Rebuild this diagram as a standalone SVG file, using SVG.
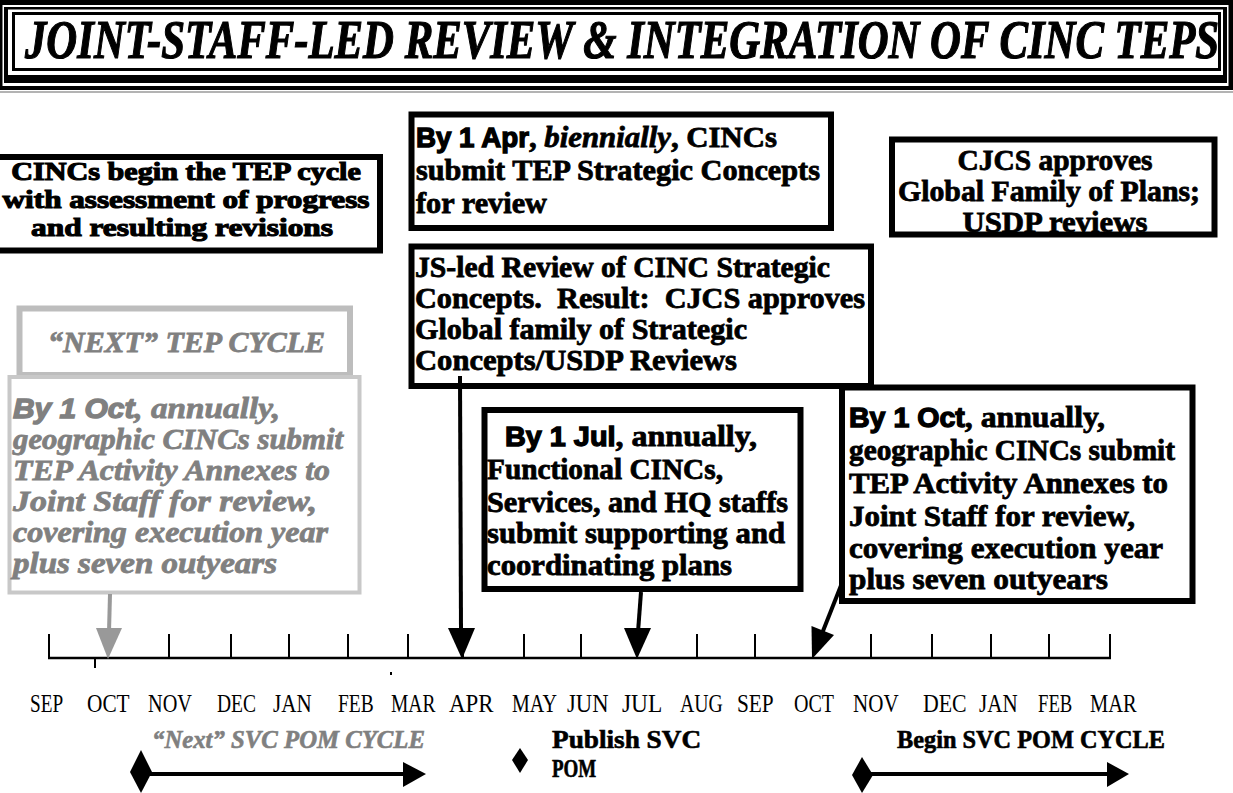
<svg xmlns="http://www.w3.org/2000/svg" width="1233" height="793" viewBox="0 0 1233 793">
  <style>
    .box { fill: #fff; stroke: #000; stroke-width: 6; }
    .gbox { fill: #fff; }
    .t { font-family: "Liberation Serif", "Times New Roman", serif; font-weight: bold; font-size: 30px; fill: #000; stroke: #000; stroke-width: 0.8; }
    .g { fill: #808080; stroke: #808080; font-style: italic; }
    .sans { font-family: "Liberation Sans", Arial, sans-serif; font-weight: bold; stroke-width: 1.3; }
    .it { font-style: italic; }
    .mon { font-family: "Liberation Serif", "Times New Roman", serif; font-size: 26px; fill: #000; }
    .lbl { font-family: "Liberation Serif", "Times New Roman", serif; font-weight: bold; font-size: 25px; fill: #000; stroke: #000; stroke-width: 0.6; }
    .tick { stroke: #000; stroke-width: 2; }
    .stem { stroke: #000; stroke-width: 4; fill: none; }
  </style>

  <!-- title banner: nested frame lines -->
  <g id="title">
    <rect x="0" y="0" width="1233" height="90" fill="#000"/>
    <rect x="2.5" y="5" width="1226" height="81" fill="#fff"/>
    <rect x="4" y="7" width="1223" height="76" fill="#000"/>
    <rect x="8" y="9.5" width="1215" height="65.5" fill="#fff"/>
    <rect x="13.5" y="13.5" width="1206" height="56" fill="none" stroke="#000" stroke-width="3"/>
    <line x1="0" y1="92" x2="1233" y2="92" stroke="#9a9a9a" stroke-width="1.5"/>
    <text transform="translate(25 58) scale(0.792 1)" font-family="'Liberation Serif', 'Times New Roman', serif" font-weight="bold" font-style="italic" font-size="54" stroke="#000" stroke-width="1.2">JOINT-STAFF-LED REVIEW &amp; INTEGRATION OF CINC TEPS</text>
  </g>

  <g id="node-begin">
    <rect class="box" x="-10" y="157" width="390" height="93.5"/>
    <text class="t" text-anchor="middle" style="font-size:25px;stroke-width:1.1" transform="translate(186 180) scale(1.207 1)">CINCs begin the TEP cycle</text>
    <text class="t" text-anchor="middle" style="font-size:25px;stroke-width:1.1" transform="translate(186 208) scale(1.247 1)">with assessment of progress</text>
    <text class="t" text-anchor="middle" style="font-size:25px;stroke-width:1.1" transform="translate(182 236) scale(1.254 1)">and resulting revisions</text>
  </g>

  <g id="node-apr">
    <rect class="box" x="411.5" y="114.5" width="419.5" height="113.5"/>
    <text class="t" x="416" y="147" textLength="361" lengthAdjust="spacingAndGlyphs"><tspan class="sans" font-size="27">By 1 Apr</tspan>, <tspan class="it">biennially</tspan>, CINCs</text>
    <text class="t" x="416" y="180" textLength="404" lengthAdjust="spacingAndGlyphs">submit TEP Strategic Concepts</text>
    <text class="t" x="416" y="213" textLength="131" lengthAdjust="spacingAndGlyphs">for review</text>
  </g>

  <g id="node-cjcs">
    <rect class="box" x="892" y="139.5" width="322.5" height="95"/>
    <text class="t" text-anchor="middle" x="1055" y="170" textLength="195" lengthAdjust="spacingAndGlyphs">CJCS approves</text>
    <text class="t" text-anchor="middle" x="1049" y="201" textLength="302" lengthAdjust="spacingAndGlyphs">Global Family of Plans;</text>
    <text class="t" text-anchor="middle" x="1055" y="232" textLength="185" lengthAdjust="spacingAndGlyphs">USDP reviews</text>
  </g>

  <g id="node-js-review">
    <rect class="box" x="411.5" y="246.5" width="459.5" height="139.5"/>
    <text class="t" x="415" y="277" textLength="415" lengthAdjust="spacingAndGlyphs">JS-led Review of CINC Strategic</text>
    <text class="t" x="415" y="308" textLength="450" lengthAdjust="spacingAndGlyphs" style="white-space:pre">Concepts.  Result:  CJCS approves</text>
    <text class="t" x="415" y="339" textLength="332" lengthAdjust="spacingAndGlyphs">Global family of Strategic</text>
    <text class="t" x="415" y="370" textLength="322" lengthAdjust="spacingAndGlyphs">Concepts/USDP Reviews</text>
  </g>

  <g id="node-next-cycle">
    <rect class="gbox" x="19.5" y="308.5" width="330.5" height="66.5" stroke="#bdbdbd" stroke-width="6"/>
    <text class="t g" x="48" y="352" textLength="277" lengthAdjust="spacingAndGlyphs">“NEXT” TEP CYCLE</text>
  </g>

  <g id="node-next-oct">
    <rect class="gbox" x="9.5" y="377" width="350" height="215.5" stroke="#c8c8c8" stroke-width="4"/>
    <text class="t g" x="13" y="418" textLength="267" lengthAdjust="spacingAndGlyphs"><tspan class="sans" font-size="27">By 1 Oct</tspan>, annually,</text>
    <text class="t g" x="13" y="449" textLength="330" lengthAdjust="spacingAndGlyphs">geographic CINCs submit</text>
    <text class="t g" x="13" y="480" textLength="317" lengthAdjust="spacingAndGlyphs">TEP Activity Annexes to</text>
    <text class="t g" x="13" y="511" textLength="304" lengthAdjust="spacingAndGlyphs">Joint Staff for review,</text>
    <text class="t g" x="13" y="542" textLength="315" lengthAdjust="spacingAndGlyphs">covering execution year</text>
    <text class="t g" x="13" y="573" textLength="264" lengthAdjust="spacingAndGlyphs">plus seven outyears</text>
  </g>

  <g id="node-jul">
    <rect class="box" x="484.5" y="410" width="316" height="179"/>
    <text class="t" x="505" y="446" textLength="252" lengthAdjust="spacingAndGlyphs"><tspan class="sans" font-size="27">By 1 Jul</tspan>, annually,</text>
    <text class="t" x="487" y="479" textLength="236" lengthAdjust="spacingAndGlyphs">Functional CINCs,</text>
    <text class="t" x="487" y="512" textLength="301" lengthAdjust="spacingAndGlyphs">Services, and HQ staffs</text>
    <text class="t" x="487" y="543" textLength="298" lengthAdjust="spacingAndGlyphs">submit supporting and</text>
    <text class="t" x="487" y="575" textLength="245" lengthAdjust="spacingAndGlyphs">coordinating plans</text>
  </g>

  <g id="node-oct">
    <rect class="box" x="842" y="387.5" width="350.5" height="213.5"/>
    <text class="t" x="849" y="427" textLength="256" lengthAdjust="spacingAndGlyphs"><tspan class="sans" font-size="27">By 1 Oct</tspan>, annually,</text>
    <text class="t" x="849" y="460" textLength="326" lengthAdjust="spacingAndGlyphs">geographic CINCs submit</text>
    <text class="t" x="849" y="493" textLength="319" lengthAdjust="spacingAndGlyphs">TEP Activity Annexes to</text>
    <text class="t" x="849" y="526" textLength="286" lengthAdjust="spacingAndGlyphs">Joint Staff for review,</text>
    <text class="t" x="849" y="558" textLength="314" lengthAdjust="spacingAndGlyphs">covering execution year</text>
    <text class="t" x="849" y="589" textLength="259" lengthAdjust="spacingAndGlyphs">plus seven outyears</text>
  </g>

  <!-- month axis -->
  <g id="timeline">
    <line x1="48" y1="658" x2="1111" y2="658" stroke="#000" stroke-width="2.5"/>
    <g class="tick">
      <line x1="49" y1="634" x2="49" y2="658"/>
      <line x1="108" y1="634" x2="108" y2="658"/>
      <line x1="169" y1="634" x2="169" y2="658"/>
      <line x1="231" y1="634" x2="231" y2="658"/>
      <line x1="289" y1="634" x2="289" y2="658"/>
      <line x1="348" y1="634" x2="348" y2="658"/>
      <line x1="408" y1="634" x2="408" y2="658"/>
      <line x1="463" y1="634" x2="463" y2="658"/>
      <line x1="524" y1="634" x2="524" y2="658"/>
      <line x1="581" y1="634" x2="581" y2="658"/>
      <line x1="637" y1="634" x2="637" y2="658"/>
      <line x1="697" y1="634" x2="697" y2="658"/>
      <line x1="755" y1="634" x2="755" y2="658"/>
      <line x1="813" y1="634" x2="813" y2="658"/>
      <line x1="871" y1="634" x2="871" y2="658"/>
      <line x1="932" y1="634" x2="932" y2="658"/>
      <line x1="991" y1="634" x2="991" y2="658"/>
      <line x1="1049" y1="634" x2="1049" y2="658"/>
      <line x1="1110" y1="634" x2="1110" y2="658"/>
      <line x1="95" y1="658" x2="95" y2="668"/>
    </g>
    <rect x="390" y="672" width="2" height="3" fill="#000"/>
    <!-- month names, horizontally condensed -->
    <g class="mon">
      <text transform="translate(30 712) scale(0.74 1)">SEP</text>
      <text transform="translate(87 712) scale(0.82 1)">OCT</text>
      <text transform="translate(148 712) scale(0.78 1)">NOV</text>
      <text transform="translate(217 712) scale(0.75 1)">DEC</text>
      <text transform="translate(273 712) scale(0.81 1)">JAN</text>
      <text transform="translate(338 712) scale(0.75 1)">FEB</text>
      <text transform="translate(391 712) scale(0.75 1)">MAR</text>
      <text transform="translate(449 712) scale(0.88 1)">APR</text>
      <text transform="translate(512 712) scale(0.77 1)">MAY</text>
      <text transform="translate(567 712) scale(0.87 1)">JUN</text>
      <text transform="translate(622 712) scale(0.9 1)">JUL</text>
      <text transform="translate(680 712) scale(0.76 1)">AUG</text>
      <text transform="translate(737 712) scale(0.82 1)">SEP</text>
      <text transform="translate(794 712) scale(0.77 1)">OCT</text>
      <text transform="translate(853 712) scale(0.81 1)">NOV</text>
      <text transform="translate(923 712) scale(0.84 1)">DEC</text>
      <text transform="translate(979 712) scale(0.81 1)">JAN</text>
      <text transform="translate(1038 712) scale(0.72 1)">FEB</text>
      <text transform="translate(1090 712) scale(0.79 1)">MAR</text>
    </g>
  </g>

  <!-- service POM cycle markers -->
  <g id="pom-next">
    <text class="lbl" x="152" y="748" font-style="italic" textLength="273" lengthAdjust="spacingAndGlyphs" style="fill:#808080;stroke:#808080">“Next” SVC POM CYCLE</text>
    <polygon points="130,772 141,750 152,772 141,793" fill="#000"/>
    <line x1="150" y1="774" x2="406" y2="774" stroke="#000" stroke-width="4"/>
    <polygon points="403,762 426,774 403,787" fill="#000"/>
  </g>
  <g id="pom-publish">
    <polygon points="512,760 520,748 528,760 520,773" fill="#000"/>
    <text class="lbl" transform="translate(552 748) scale(1.09 1)">Publish SVC</text>
    <text class="lbl" transform="translate(552 777) scale(0.76 1)">POM</text>
  </g>
  <g id="pom-begin">
    <text class="lbl" x="897" y="748" textLength="268" lengthAdjust="spacingAndGlyphs">Begin SVC POM CYCLE</text>
    <polygon points="852,775 862,757 873,775 862,793" fill="#000"/>
    <line x1="870" y1="774" x2="1110" y2="774" stroke="#000" stroke-width="4"/>
    <polygon points="1107,762 1129,774 1107,787" fill="#000"/>
  </g>

  <!-- connectors from milestone boxes down to the axis -->
  <g id="connectors">
    <line x1="110" y1="594" x2="109" y2="632" stroke="#999" stroke-width="4"/>
    <polygon points="96,628 122,628 108,659" fill="#999"/>
    <line class="stem" x1="460" y1="376" x2="461" y2="632"/>
    <polygon points="448,628 475,628 462,659" fill="#000"/>
    <line class="stem" x1="641" y1="592" x2="638" y2="632"/>
    <polygon points="624,628 651,628 637,659" fill="#000"/>
    <line class="stem" x1="842" y1="583" x2="821" y2="636"/>
    <polygon points="834,635 811.5,626 812,659" fill="#000"/>
  </g>
</svg>
